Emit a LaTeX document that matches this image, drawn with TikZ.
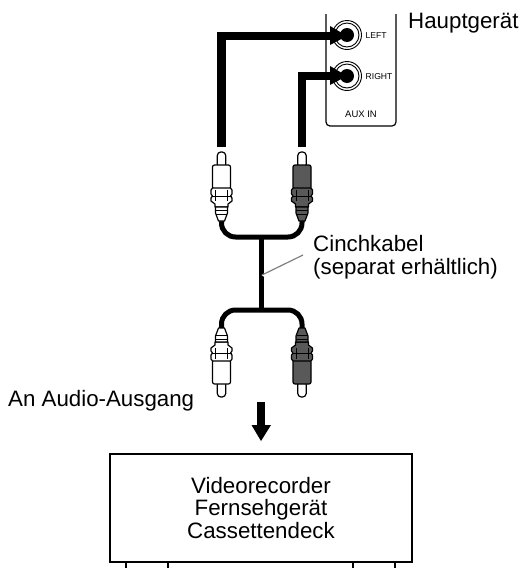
\documentclass[tikz,border=0pt]{standalone}
\usepackage{fontspec}
\setmainfont{Liberation Sans}
\usetikzlibrary{positioning}
\definecolor{plugdark}{gray}{0.35}

\begin{document}
\begin{tikzpicture}[
    x=1pt, y=-1pt,
    label/.style={inner sep=0pt, align=center, font=\fontsize{22.3}{22.8}\selectfont},
    jacklabel/.style={inner sep=0pt, font=\fontsize{8.6}{10}\selectfont},
    jack/.style={draw, circle, line width=0.9pt, fill=white, inner sep=0pt},
    cable/.style={line width=8.5pt},
    ycable/.style={line width=5pt, rounded corners=14pt},
    plugline/.style={draw=black, line width=1.2pt, line join=round},
    % one plug, drawn pointing up
    pics/plug/.style={code={
        \draw[plugline, fill=white, rounded corners=3.5pt] (-4.2,-36) -- (-4.2,-52) -- (4.2,-52) -- (4.2,-36) -- cycle;
        \draw[plugline, fill=#1, rounded corners=2pt] (-9,-39) -- (9,-39) -- (9,-15) -- (-9,-15) -- cycle;
        \draw[plugline, fill=#1] (-9,-16) -- (-10.5,-14) -- (-10.5,-10) -- (-9,-8) -- (-10.5,-6) -- (-10.5,-3) -- (-6.5,0) -- (-6.5,3) -- (6.5,3) -- (6.5,0) -- (10.5,-3) -- (10.5,-6) -- (9,-8) -- (10.5,-10) -- (10.5,-14) -- (9,-16) -- cycle;
        \draw[plugline, fill=#1] (-6,3) -- (-6,9) -- (-3,17) -- (3,17) -- (6,9) -- (6,3) -- cycle;
        \draw[line width=0.8pt] (-6,-3) -- (-6,-14) (6,-3) -- (6,-14) (-10,-8) -- (10,-8) (-6,6) -- (6,6) (-5.5,10) -- (5.5,10);
    }}
]
    \useasboundingbox (0,0) rectangle (521,568);

    % main unit
    \coordinate (panelL) at (326,14);
    \coordinate (panelR) at (396,14);
    \draw[line width=1.2pt, rounded corners=4pt] (panelL) -- (326,126) -- (396,126) -- (panelR);
    \node (jackL) [jack, minimum size=29pt] at (347,35) {};
    \node (jackLin) [jack, minimum size=24pt] at (347,35) {};
    \node (jackR) [jack, minimum size=29pt] at (347,76) {};
    \node (jackRin) [jack, minimum size=24pt] at (347,76) {};
    \fill (347,35) circle (7pt);
    \fill (347,76) circle (7pt);
    \node (left) [jacklabel, anchor=west] at (365.5,35.5) {LEFT};
    \node (right) [jacklabel, anchor=west] at (365.5,76.5) {RIGHT};
    \node (auxin) [jacklabel, font=\fontsize{9.5}{11}\selectfont] at (361,114) {AUX IN};
    \node (haupt) [label, anchor=west] at (408,23) {Hauptgerät};

    % upper plugs
    \coordinate (plugTL) at (221.5,204);
    \coordinate (plugTR) at (302,204);
    \coordinate (tipTL) at (221.5,147);
    \coordinate (tipTR) at (302,147);
    \draw[ycable] (221.5,218) -- (221.5,237) -- (302,237) -- (302,218);
    \pic at (plugTL) {plug=white};
    \pic at (plugTR) {plug=plugdark};

    % cables into the jacks
    \coordinate (headL) at (331,36);
    \coordinate (headR) at (331,76);
    \draw[cable] (tipTL) -- (221.5,36) -- (headL);
    \draw[cable] (tipTR) -- (302,76) -- (headR);
    \fill (330,26) -- (347,36) -- (330,45) -- cycle;
    \fill (330,66) -- (347,76) -- (330,85) -- cycle;

    % lower plugs
    \draw[line width=5pt] (261,237) -- (261,310);
    \draw[ycable] (221.5,330) -- (221.5,310) -- (302,310) -- (302,330);
    \pic[yscale=-1] at (221.5,345) {plug=white};
    \pic[yscale=-1] at (302,345) {plug=plugdark};

    % leader and text
    \coordinate (leadA) at (262,275);
    \coordinate (leadB) at (303,255);
    \coordinate (leadC) at (266,277);
    \draw[white, line width=1.2pt] (leadA) -- (leadC);
    \draw[gray, line width=1.2pt] (leadA) -- (leadB);
    \node (cinch) [label, anchor=north west, align=left] at (313,235) {Cinchkabel\\(separat erhältlich)};
    \node (audio) [label, anchor=west] at (8,401) {An Audio-Ausgang};

    % arrow to the source
    \coordinate (arrA) at (261,402);
    \coordinate (arrB) at (261,426);
    \draw[line width=8.5pt] (arrA) -- (arrB);
    \fill (251.5,425) -- (271,425) -- (261,441) -- cycle;

    % source box
    \node (source) [draw, line width=2.4pt, minimum width=302pt, minimum height=108pt, label] at (261,508) {Videorecorder\\Fernsehgerät\\Cassettendeck};
    \coordinate (legA) at (126,568);
    \coordinate (legB) at (168,568);
    \coordinate (legC) at (353,568);
    \coordinate (legD) at (395,568);
    \draw[line width=1.6pt] (source.south -| legA) -- (legA);
    \draw[line width=1.6pt] (source.south -| legB) -- (legB);
    \draw[line width=1.6pt] (source.south -| legC) -- (legC);
    \draw[line width=1.6pt] (source.south -| legD) -- (legD);
\end{tikzpicture}
\end{document}
